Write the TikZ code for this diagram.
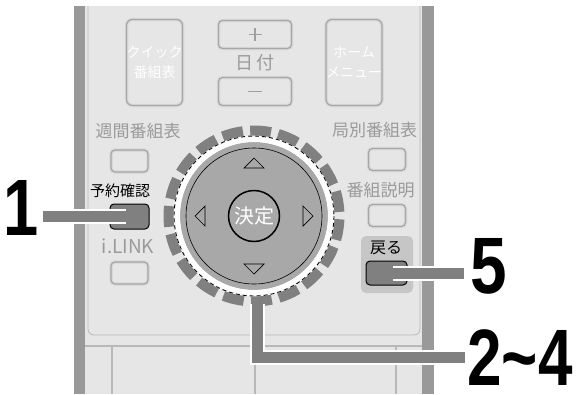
\documentclass[tikz,border=0pt]{standalone}
\usepackage{fontspec}
\newfontfamily\jpfont{Noto Sans CJK JP}
\newfontfamily\numfont{Liberation Sans}
\usetikzlibrary{positioning}

\definecolor{bodygray}{HTML}{E6E6E6}
\definecolor{stripgray}{HTML}{999999}
\definecolor{leadgray}{HTML}{808080}
\definecolor{dialgray}{HTML}{A8A8A8}
\definecolor{labelgray}{HTML}{9A9A9A}
\definecolor{linegray}{HTML}{B8B8B8}

\begin{document}
\begin{tikzpicture}[x=1pt, y=-1pt,
  label text/.style={text=labelgray, font=\jpfont\fontsize{17}{17}\selectfont, inner sep=0pt},
  key label/.style={text=black, font=\jpfont\fontsize{15}{15}\selectfont, inner sep=0pt},
  btn/.style={draw=gray!70, line width=1.2pt, rounded corners=4pt, minimum width=37pt,
    minimum height=22pt, inner sep=0pt, preaction={draw=gray!30, line width=3.5pt}},
  big btn/.style={btn, minimum width=54pt, minimum height=86pt, rounded corners=6pt,
    align=center, text=white, font=\jpfont\fontsize{14}{20}\selectfont},
  pressed btn/.style={fill=leadgray, draw=black, line width=1pt, rounded corners=4pt,
    minimum width=39pt, minimum height=25pt, inner sep=0pt},
  step no/.style={font=\numfont\bfseries\fontsize{62}{62}\selectfont, inner sep=0pt, anchor=base},
  leader/.style={draw=leadgray, line width=11pt, preaction={draw=white, line width=15pt}},
  tri/.style={draw=black, line width=0.7pt, line join=miter},
]
\useasboundingbox (0,0) rectangle (576,394);

% remote body
\fill[bodygray] (85,6) rectangle (422,394);
\fill[stripgray] (74,6) rectangle (85,394);
\fill[stripgray] (422,6) rectangle (434,394);
\draw[linegray, line width=0.8pt, rounded corners=6pt] (88,6) -- (88,335) -- (420,335) -- (420,6);
\draw[linegray, line width=1.5pt] (85,346) -- (422,346);
\foreach \x in {112,255,396} \draw[linegray, line width=1.5pt] (\x,346) -- (\x,394);

% top keys
\node[big btn] (quick) at (154.5,62.5) {クイック\\番組表};
\node[big btn, minimum width=56pt] (home) at (354,62.5) {ホーム\\メニュー};
\node[btn, minimum width=73pt, minimum height=28pt] (plus) at (255,34.5) {};
\node[btn, minimum width=73pt, minimum height=28pt] (minus) at (255,91.5) {};
\draw[gray!75, line width=1.8pt] ([xshift=-6.5pt]plus.center) -- ([xshift=6.5pt]plus.center)
  ([yshift=-6.5pt]plus.center) -- ([yshift=6.5pt]plus.center);
\draw[gray!75, line width=1.8pt] ([xshift=-7pt]minus.center) -- ([xshift=7pt]minus.center);
\node[label text, font=\jpfont\fontsize{18}{18}\selectfont] (date) at (255,62.5) {日\,付};

% left column
\node[label text] (weekly) at (138,131) {週間番組表};
\node[btn] (weeklykey) at (129.5,161) {};
\node[key label] (yoyakulabel) at (120,190.5) {予約確認};
\node[pressed btn] (yoyaku) at (129.5,216.5) {};
\node[label text, font=\jpfont\fontsize{19}{19}\selectfont] (ilink) at (128,246) {i.LINK};
\node[btn] (ilinkkey) at (129.5,273) {};

% right column
\node[label text] (station) at (374.5,130) {局別番組表};
\node[btn] (stationkey) at (387,159.5) {};
\node[label text] (info) at (380.5,190.5) {番組説明};
\node[btn] (infokey) at (387,215.5) {};
\node[fill=gray!45, rounded corners=5pt, minimum width=52pt, minimum height=57pt,
  inner sep=0pt] (backpad) at (387,264.5) {};
\node[key label, font=\jpfont\fontsize{16}{16}\selectfont] (backlabel) at (386,247.5) {戻る};
\node[pressed btn, minimum width=41pt, minimum height=24pt] (back) at (386.5,273) {};

% dial
\coordinate (dc) at (254,216);
\fill[dialgray] (dc) circle (74);
\draw[white, line width=5pt] (dc) circle (76.5);
\draw[black, line width=0.6pt] (dc) circle (68);
\draw[white, line width=1.2pt] (dc) circle (80);
\draw[black, line width=0.9pt, dash pattern=on 4pt off 3pt] (dc) circle (80);
\foreach \i [evaluate=\i as \a using 78+\i*18.947] in {0,...,18}
  \draw[leadgray, line width=10pt] ([shift={(\a:85.5)}]dc) arc[start angle=\a, delta angle=14, radius=85.5];
\node[circle, draw=black, line width=1.5pt, minimum size=51pt, inner sep=0pt, text=white,
  font=\jpfont\fontsize{20}{20}\selectfont] (ok) at (dc) {決定};
\draw[tri] ([shift={(-10,-48)}]dc) -- ([shift={(0,-58)}]dc) -- ([shift={(10,-48)}]dc) -- cycle;
\draw[tri] ([shift={(-10,48)}]dc) -- ([shift={(0,58)}]dc) -- ([shift={(10,48)}]dc) -- cycle;
\draw[tri] ([shift={(-49,-10)}]dc) -- ([shift={(-59,0)}]dc) -- ([shift={(-49,10)}]dc) -- cycle;
\draw[tri] ([shift={(49,-10)}]dc) -- ([shift={(59,0)}]dc) -- ([shift={(49,10)}]dc) -- cycle;

% step numbers and leaders
\node[step no] (n1) at (21,235) {\scalebox{1.02}[1.29]{1}};
\node[step no] (n5) at (488.5,293) {\scalebox{1.06}[1.29]{5}};
\node[step no] (n24) at (520,385) {\scalebox{1}[1.29]{2\textasciitilde4}};
\coordinate (ringfoot) at (257.5,304);
\coordinate (bend) at (257.5,357.5);
\draw[leader] ([xshift=4pt]n1.east |- yoyaku.center) -- ([xshift=-4pt]yoyaku.center);
\draw[leader] ([xshift=6pt]back.center) -- ([xshift=-6pt]n5.west |- back.center);
\draw[leader] (ringfoot) -- (bend) -- ([xshift=-2pt]n24.west |- bend);
\end{tikzpicture}
\end{document}
